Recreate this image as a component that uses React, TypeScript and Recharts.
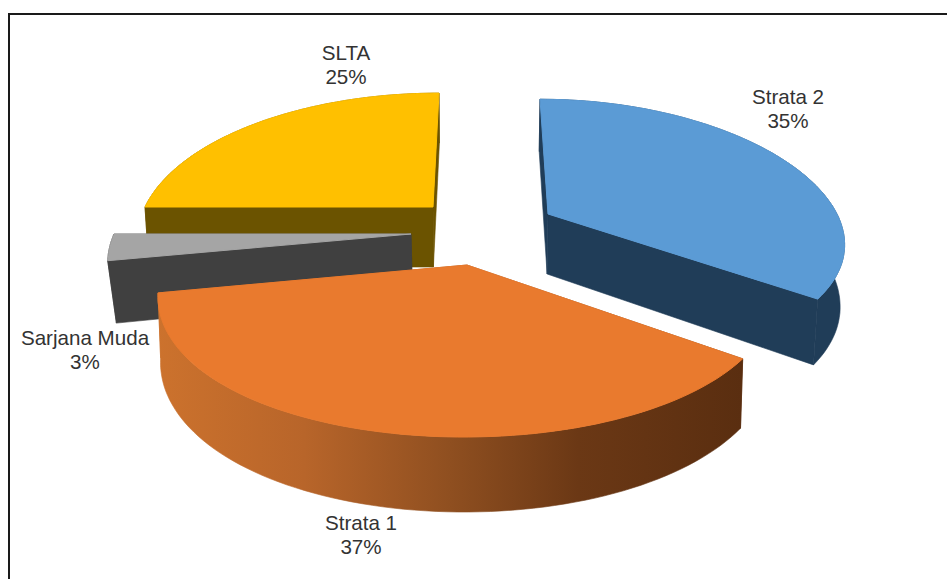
import React from "react";
import { PieChart, Pie } from "recharts";

const categories = ["SLTA", "Sarjana Muda", "Strata 1", "Strata 2"];
const values = [25, 3, 37, 35];
const topColors = ["#FFC000", "#A5A5A5", "#E97A2E", "#5B9BD5"];
const sideColors = ["#6B5300", "#404040", "url(#strata1Wall)", "#203D58"];

const rows = categories.map((name, i) => ({ name, value: values[i], fill: topColors[i], side: sideColors[i] }));

// 3D projection of the flat pie: perspective, depth, per-slice explosion
const W = 947;
const H = 579;
const RADIUS = 302;
const VX = 470;
const explode: Record<string, { ax: number; ay: number; shear: number; q: number; rx: number; ry: number; k: number; kx: number; depth: number }> = {
  SLTA: { ax: 433, ay: 207, shear: 6, q: 0.012, rx: 288, ry: 137, k: 0.203, kx: 0.203, depth: 60 },
  "Sarjana Muda": { ax: 411, ay: 234, shear: 0, q: 0.024, rx: 297, ry: 137, k: 0.203, kx: 0.203, depth: 60 },
  "Strata 1": { ax: 467, ay: 265, shear: 3, q: 0.008, rx: 302, ry: 144.5, k: 0.16, kx: 0.203, depth: 63 },
  "Strata 2": { ax: 548, ay: 214, shear: -8, q: 0.012, rx: 289, ry: 132, k: 0.15, kx: 0.2, depth: 60 },
};
const labelPos: Record<string, { x: number; y: number }> = {
  SLTA: { x: 346, y: 60 },
  "Sarjana Muda": { x: 85, y: 345 },
  "Strata 1": { x: 361, y: 530 },
  "Strata 2": { x: 788, y: 104 },
};

function project(name: string, deg: number, r: number, lower: boolean): [number, number] {
  const g = explode[name];
  const a = (deg * Math.PI) / 180;
  const s = Math.sin(a) * r;
  const c = Math.cos(a) * r;
  const den = 1 + g.k * s;
  let x = g.ax + (g.rx * c) / (1 + g.kx * s) + g.shear * s;
  let y = g.ay - (g.ry * s) / den;
  if (lower) {
    y += g.depth / den;
    x = VX + (x - VX) * (1 - g.q);
  }
  return [x, y];
}

const toPath = (pts: [number, number][]) =>
  "M" + pts.map((p) => `${p[0].toFixed(1)},${p[1].toFixed(1)}`).join("L") + "Z";

function Slice3D(props: any) {
  const name = props.name ?? props.payload?.name;
  const side = props.side ?? props.payload?.side;
  const a0 = Math.min(props.startAngle, props.endAngle);
  const a1 = Math.max(props.startAngle, props.endAngle);
  const arcAngles: number[] = [];
  for (let i = 0; i <= 80; i++) arcAngles.push(a0 + ((a1 - a0) * i) / 80);
  const topArc = arcAngles.map((d) => project(name, d, 1, false));
  const lowArc = arcAngles.map((d) => project(name, d, 1, true));
  const apex = project(name, 0, 0, false);
  const apexLow = project(name, 0, 0, true);
  const cut0 = [apex, topArc[0], lowArc[0], apexLow] as [number, number][];
  const cut1 = [apex, topArc[80], lowArc[80], apexLow] as [number, number][];
  const wall = [...topArc, ...[...lowArc].reverse()];
  return (
    <g>
      <path d={toPath(wall)} fill={side} stroke={side} strokeWidth={0.6} />
      <path d={toPath(cut0)} fill={side} stroke={side} strokeWidth={0.6} />
      <path d={toPath(cut1)} fill={side} stroke={side} strokeWidth={0.6} />
      <path d={toPath([apex, ...topArc])} fill={props.fill} stroke={props.fill} strokeWidth={1} />
    </g>
  );
}

function SliceLabel(props: any) {
  const name = props.name ?? props.payload?.name;
  const pos = labelPos[name];
  return (
    <text x={pos.x} y={pos.y} textAnchor="middle" fontFamily="Liberation Sans" fontSize={20.6} fill="#333333">
      <tspan x={pos.x}>{name}</tspan>
      <tspan x={pos.x} dy={24}>{`${props.value}%`}</tspan>
    </text>
  );
}

export default function App() {
  return (
    <div style={{ position: "absolute", left: 0, top: 0, width: W, height: H, background: "#fff", overflow: "hidden" }}>
      <div style={{ position: "absolute", left: 8, top: 13, width: W, height: H, border: "2px solid #1a1a1a", boxSizing: "border-box" }} />
      <div style={{ position: "absolute", left: 0, top: 0 }}>
        <PieChart width={W} height={H} margin={{ top: 0, right: 0, bottom: 0, left: 0 }}>
          <defs>
            <linearGradient id="strata1Wall" gradientUnits="userSpaceOnUse" x1="158" y1="0" x2="742" y2="0">
              <stop offset="0" stopColor="#CC722D" />
              <stop offset="0.25" stopColor="#B8652A" />
              <stop offset="0.5" stopColor="#8F4F20" />
              <stop offset="0.72" stopColor="#6B3815" />
              <stop offset="1" stopColor="#5A2E10" />
            </linearGradient>
          </defs>
          <Pie
            data={rows}
            dataKey="value"
            nameKey="name"
            cx={470}
            cy={235}
            outerRadius={RADIUS}
            startAngle={90}
            endAngle={450}
            stroke="none"
            labelLine={false}
            label={SliceLabel}
            shape={Slice3D}
            isAnimationActive={false}
          />
        </PieChart>
      </div>
    </div>
  );
}
